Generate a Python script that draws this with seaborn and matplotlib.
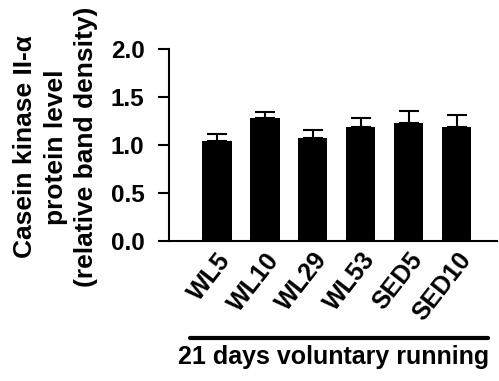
import numpy as np
import pandas as pd
import matplotlib
matplotlib.use("Agg")
import matplotlib.pyplot as plt
from matplotlib.lines import Line2D
import seaborn as sns

# Group labels and densitometry results (mean and SEM)
groups = ["WL5", "WL10", "WL29", "WL53", "SED5", "SED10"]
means = [1.04, 1.28, 1.08, 1.19, 1.23, 1.19]
sems = [0.08, 0.07, 0.08, 0.09, 0.13, 0.13]
y_ticks = [0.0, 0.5, 1.0, 1.5, 2.0]

sns.set_theme(style="ticks")
plt.rcParams["font.family"] = ["Liberation Sans", "DejaVu Sans"]
plt.rcParams["font.weight"] = "bold"
for key in ("text.color", "axes.labelcolor", "xtick.color", "ytick.color", "axes.edgecolor"):
    plt.rcParams[key] = "black"

df = pd.DataFrame({"group": groups, "mean": means, "sem": sems})

fig = plt.figure(figsize=(4.99, 3.81), dpi=100)
ax = fig.add_axes([169 / 499, 1 - 241.3 / 381, (497 - 169) / 499, (241.3 - 49.3) / 381])

sns.barplot(data=df, x="group", y="mean", color="black", width=0.61,
            errorbar=None, saturation=1, ax=ax, edgecolor="black", linewidth=0)

xpos = np.arange(len(groups))
ax.errorbar(xpos, means, yerr=[np.zeros(len(sems)), sems], fmt="none",
            ecolor="black", elinewidth=1.5, capsize=7.4, capthick=1.5)

ax.set_ylim(0, 2.0)
ax.set_xlim(-1.0, 5.84)
ax.set_yticks(y_ticks)
ax.set_yticklabels([f"{v:.1f}" for v in y_ticks], fontsize=17.5, fontweight="bold")
ax.set_xticks(xpos)
ax.set_xticklabels(groups, fontsize=18, fontweight="bold", rotation=52,
                   ha="right", va="top", rotation_mode="anchor")
ax.tick_params(axis="y", length=7.7, width=1.5, pad=10)
ax.tick_params(axis="x", length=0, pad=5)
ax.set_xlabel("")
ax.set_ylabel("")
for side in ("top", "right"):
    ax.spines[side].set_visible(False)
for side in ("left", "bottom"):
    ax.spines[side].set_linewidth(1.5)

fig.text(55.5 / 499, 1 - 147 / 381,
         "Casein kinase II-\u03b1\nprotein level\n(relative band density)",
         rotation=90, ha="center", va="center", multialignment="center",
         fontsize=19, fontweight="bold", linespacing=1.32)

# Bracket line grouping all conditions
fig.add_artist(Line2D([190 / 499, 488 / 499], [1 - 337.7 / 381, 1 - 337.7 / 381],
                      color="black", linewidth=3, transform=fig.transFigure))
fig.text(334 / 499, 1 - 364 / 381, "21 days voluntary running",
         ha="center", va="baseline", fontsize=18, fontweight="bold")

fig.savefig("out.png", dpi=100, facecolor="white")
